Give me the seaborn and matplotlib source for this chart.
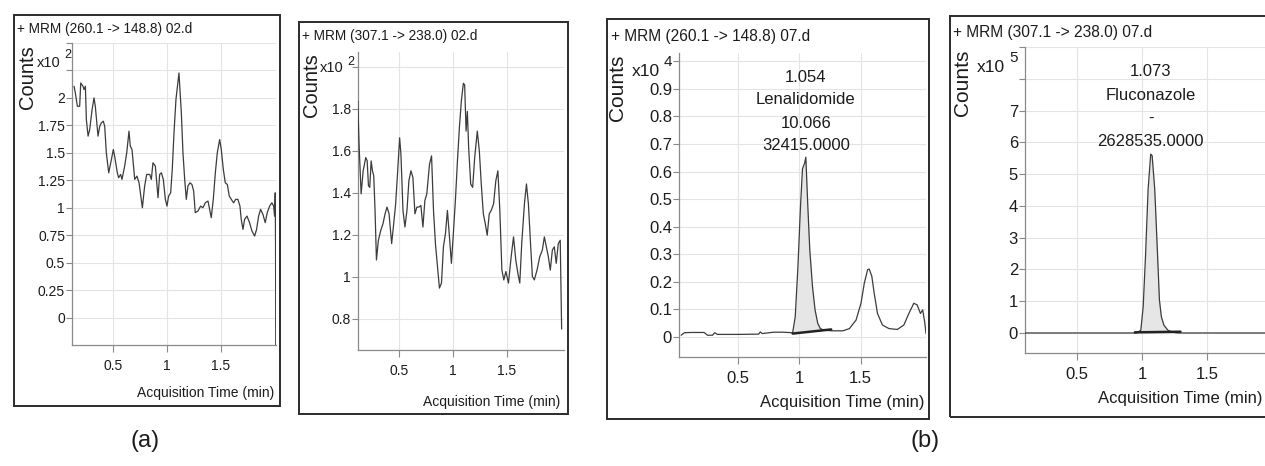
import numpy as np
import pandas as pd
import matplotlib
matplotlib.use("Agg")
import matplotlib.pyplot as plt
import seaborn as sns
from matplotlib import font_manager
from matplotlib.patches import Rectangle

# ---------------- data ----------------
# Panel (a) left: + MRM (260.1 -> 148.8) 02.d   (counts x10^2)
p1_time = [0.139, 0.151, 0.170, 0.191, 0.201, 0.222, 0.231, 0.244, 0.253, 0.269,
           0.284, 0.306, 0.324, 0.336, 0.361, 0.377, 0.392, 0.410, 0.423, 0.438,
           0.460, 0.485, 0.503, 0.515, 0.540, 0.552, 0.571, 0.583, 0.608, 0.627,
           0.648, 0.660, 0.676, 0.701, 0.722, 0.741, 0.772, 0.793, 0.812, 0.840,
           0.855, 0.870, 0.892, 0.917, 0.932, 0.948, 0.966, 0.985, 1.000, 1.015,
           1.034, 1.049, 1.065, 1.083, 1.111, 1.133, 1.148, 1.164, 1.179, 1.194,
           1.213, 1.231, 1.247, 1.262, 1.287, 1.312, 1.333, 1.355, 1.380, 1.395,
           1.410, 1.429, 1.448, 1.466, 1.488, 1.503, 1.522, 1.540, 1.559, 1.577,
           1.596, 1.617, 1.636, 1.657, 1.676, 1.688, 1.704, 1.719, 1.741, 1.765,
           1.787, 1.812, 1.830, 1.849, 1.867, 1.889, 1.910, 1.929, 1.951, 1.972,
           1.988, 1.997, 2.003, 2.006, 2.008]
p1_counts = [2.106, 2.045, 1.924, 1.924, 2.136, 2.106, 2.076, 2.106, 1.803, 1.652,
             1.712, 1.894, 2.000, 1.924, 1.652, 1.742, 1.773, 1.788, 1.742, 1.500,
             1.318, 1.439, 1.530, 1.470, 1.318, 1.273, 1.303, 1.258, 1.379, 1.500,
             1.697, 1.561, 1.530, 1.258, 1.288, 1.227, 1.000, 1.197, 1.303, 1.303,
             1.258, 1.409, 1.379, 1.091, 1.303, 1.318, 1.258, 1.076, 1.015, 1.106,
             1.136, 1.348, 1.682, 1.985, 2.227, 1.864, 1.500, 1.258, 1.076, 1.197,
             1.227, 1.212, 1.152, 0.955, 0.970, 1.015, 1.000, 1.045, 1.061, 0.985,
             0.909, 1.076, 1.318, 1.500, 1.621, 1.530, 1.348, 1.227, 1.212, 1.106,
             1.076, 1.045, 1.076, 1.076, 1.015, 0.894, 0.803, 0.894, 0.924, 0.864,
             0.788, 0.742, 0.803, 0.924, 0.985, 0.939, 0.864, 0.955, 1.015, 1.045,
             1.015, 0.924, 1.136, 0.652, -0.300]

# Panel (a) right: + MRM (307.1 -> 238.0) 02.d   (counts x10^2)
p2_time = [0.110, 0.118, 0.131, 0.149, 0.168, 0.192, 0.205, 0.217, 0.229, 0.242,
           0.254, 0.266, 0.278, 0.291, 0.309, 0.331, 0.352, 0.371, 0.389, 0.408,
           0.432, 0.451, 0.469, 0.488, 0.506, 0.518, 0.537, 0.555, 0.574, 0.592,
           0.611, 0.629, 0.648, 0.666, 0.685, 0.703, 0.722, 0.740, 0.758, 0.783,
           0.802, 0.820, 0.838, 0.857, 0.875, 0.894, 0.912, 0.931, 0.949, 0.968,
           0.986, 1.002, 1.023, 1.042, 1.060, 1.078, 1.097, 1.109, 1.122, 1.134,
           1.146, 1.165, 1.183, 1.202, 1.226, 1.245, 1.263, 1.282, 1.300, 1.318,
           1.337, 1.355, 1.377, 1.398, 1.417, 1.435, 1.454, 1.472, 1.491, 1.515,
           1.540, 1.562, 1.583, 1.602, 1.620, 1.638, 1.663, 1.682, 1.700, 1.718,
           1.737, 1.755, 1.780, 1.805, 1.829, 1.848, 1.866, 1.885, 1.903, 1.922,
           1.940, 1.958, 1.977, 1.995, 2.008]
p2_counts = [1.819, 1.835, 1.614, 1.394, 1.504, 1.567, 1.551, 1.433, 1.425, 1.551,
             1.504, 1.480, 1.315, 1.079, 1.173, 1.220, 1.252, 1.299, 1.331, 1.299,
             1.157, 1.252, 1.346, 1.504, 1.661, 1.583, 1.315, 1.236, 1.315, 1.457,
             1.504, 1.472, 1.299, 1.331, 1.331, 1.339, 1.236, 1.362, 1.394, 1.535,
             1.575, 1.315, 1.157, 1.047, 0.945, 0.969, 1.142, 1.205, 1.315, 1.189,
             1.063, 1.189, 1.362, 1.551, 1.709, 1.835, 1.921, 1.913, 1.693, 1.787,
             1.614, 1.441, 1.425, 1.567, 1.693, 1.598, 1.441, 1.299, 1.252, 1.197,
             1.299, 1.315, 1.346, 1.457, 1.504, 1.315, 1.031, 0.984, 1.024, 0.969,
             1.094, 1.189, 1.079, 1.016, 0.969, 1.157, 1.346, 1.441, 1.346, 1.173,
             1.000, 0.984, 1.031, 1.094, 1.126, 1.189, 1.142, 1.094, 1.031, 1.126,
             1.142, 1.063, 1.157, 1.173, 0.750]

# Panel (b) left: + MRM (260.1 -> 148.8) 07.d   (counts x10^4)
p3_time = [0.041, 0.068, 0.121, 0.228, 0.255, 0.296, 0.314, 0.336, 0.497, 0.671,
           0.684, 0.700, 0.792, 0.872, 0.947, 0.968, 0.990, 1.011, 1.027, 1.044,
           1.054, 1.070, 1.086, 1.108, 1.129, 1.151, 1.172, 1.207, 1.274, 1.355,
           1.408, 1.462, 1.502, 1.529, 1.556, 1.569, 1.590, 1.609, 1.636, 1.676,
           1.730, 1.797, 1.850, 1.891, 1.931, 1.958, 1.985, 2.003, 2.019, 2.030]
p3_counts = [0.006, 0.015, 0.016, 0.016, 0.006, 0.006, 0.015, 0.009, 0.009, 0.010,
             0.018, 0.012, 0.017, 0.017, 0.015, 0.073, 0.256, 0.476, 0.610, 0.630,
             0.652, 0.476, 0.317, 0.183, 0.098, 0.049, 0.030, 0.024, 0.022, 0.022,
             0.030, 0.061, 0.122, 0.195, 0.244, 0.246, 0.220, 0.159, 0.085, 0.043,
             0.030, 0.027, 0.043, 0.085, 0.122, 0.116, 0.085, 0.098, 0.055, 0.012]
p3_base_time = [0.947, 1.260]
p3_base_counts = [0.012, 0.027]
p3_labels = ["1.054", "Lenalidomide", "10.066", "32415.0000"]

# Panel (b) right: + MRM (307.1 -> 238.0) 07.d   (counts x10^5)
p4_time = [0.100, 0.958, 0.991, 1.009, 1.027, 1.047, 1.067, 1.078, 1.098, 1.118,
           1.134, 1.149, 1.169, 1.200, 1.238, 1.276, 2.000]
p4_counts = [0.0, 0.0, 0.085, 0.82, 2.41, 4.52, 5.63, 5.58, 4.52, 2.62,
             1.04, 0.51, 0.24, 0.085, 0.02, 0.0, 0.0]
p4_base_time = [0.945, 1.296]
p4_base_counts = [0.02, 0.04]
p4_labels = ["1.073", "Fluconazole", "-", "2628535.0000"]

x_ticks = [0.5, 1.0, 1.5]
x_ticklabels = ["0.5", "1", "1.5"]
p1_yticks = [0, 0.25, 0.5, 0.75, 1, 1.25, 1.5, 1.75, 2, 2.25, 2.5]
p1_yticklabels = ["0", "0.25", "0.5", "0.75", "1", "1.25", "1.5", "1.75", "2", "", ""]
p2_yticks = [0.8, 1.0, 1.2, 1.4, 1.6, 1.8, 2.0]
p2_yticklabels = ["0.8", "1", "1.2", "1.4", "1.6", "1.8", ""]
p3_yticks = [0, 0.1, 0.2, 0.3, 0.4, 0.5, 0.6, 0.7, 0.8, 0.9, 1.0]
p3_yticklabels = ["0", "0.1", "0.2", "0.3", "0.4", "0.5", "0.6", "0.7", "0.8", "0.9", ""]
p4_yticks = [0, 1, 2, 3, 4, 5, 6, 7, 8, 9]
p4_yticklabels = ["0", "1", "2", "3", "4", "5", "6", "7", "", ""]

titles = ["+ MRM (260.1 -> 148.8) 02.d", "+ MRM (307.1 -> 238.0) 02.d",
          "+ MRM (260.1 -> 148.8) 07.d", "+ MRM (307.1 -> 238.0) 07.d"]
exponents = ["2", "2", "4", "5"]
panel_tags = ["(a)", "(b)"]

# ---------------- style ----------------
sns.set_theme(style="white")


def pick(names):
    for n in names:
        try:
            font_manager.findfont(font_manager.FontProperties(family=n),
                                  fallback_to_default=False)
            return n
        except Exception:
            pass
    return "DejaVu Sans"


FONT = pick(["Liberation Sans Narrow", "Liberation Sans", "Arimo"])
REG = pick(["Liberation Sans", "Arimo", "DejaVu Sans"])
plt.rcParams["font.family"] = [FONT, "DejaVu Sans"]

W, H = 1265, 466
fig = plt.figure(figsize=(W / 100, H / 100), dpi=100)
fig.patch.set_facecolor("white")

TXT = "#1c1c1c"
LINE = "#3c3c3c"
GRID = "#e4e4e4"
SPINE = "#8a8a8a"


def fx(px):
    return px / W


def fy(py):
    return 1 - py / H


panels = [
    dict(t=p1_time, c=p1_counts, ax=(72, 43, 276, 345), xlim=(0.12, 2.01), ylim=(-0.25, 2.5),
         yt=p1_yticks, ytl=p1_yticklabels, box=(14, 15, 280, 406), title=(17, 29),
         counts=(28, 77), x10=(37, 63), exp=(64, 55), xlab=(274, 393), xlab_ha="right",
         tfs=9.8, kfs=10, lfs=10, cfs=14.5, afs=0),
    dict(t=p2_time, c=p2_counts, ax=(358, 52, 564, 350), xlim=(0.12, 2.03), ylim=(0.65, 2.07),
         yt=p2_yticks, ytl=p2_yticklabels, box=(299, 22, 568, 414), title=(302, 36),
         counts=(312, 85), x10=(320, 68), exp=(347, 62), xlab=(560, 402), xlab_ha="right",
         tfs=9.8, kfs=10, lfs=10, cfs=14.5, afs=0),
    dict(t=p3_time, c=p3_counts, ax=(679, 53, 926, 357), xlim=(0.024, 2.03), ylim=(-0.073, 1.03),
         yt=p3_yticks, ytl=p3_yticklabels, box=(607, 19, 929, 419), title=(611, 36),
         counts=(618, 88), x10=(632, 72), exp=(664, 62), xlab=(924, 403), xlab_ha="right",
         tfs=11.2, kfs=12, lfs=12, cfs=15, afs=12),
    dict(t=p4_time, c=p4_counts, ax=(1025, 47, 1272, 353), xlim=(0.1, 2.0), ylim=(-0.63, 9.0),
         yt=p4_yticks, ytl=p4_yticklabels, box=(950, 16, 1300, 417), title=(953, 32),
         counts=(962, 83), x10=(977, 67), exp=(1009, 58), xlab=(1262, 398), xlab_ha="right",
         tfs=11.2, kfs=12, lfs=12, cfs=15, afs=12),
]

for i, p in enumerate(panels):
    l, t, r, b = p["ax"]
    ax = fig.add_axes([fx(l), fy(b), (r - l) / W, (b - t) / H])
    ax.patch.set_alpha(0)
    df = pd.DataFrame({"time": p["t"], "counts": p["c"]})

    if i == 2:
        bx, by = p3_base_time, p3_base_counts
    elif i == 3:
        bx, by = p4_base_time, p4_base_counts
    else:
        bx = None
    if bx is not None:
        seg = df[(df["time"] >= bx[0]) & (df["time"] <= bx[1])]
        xs = np.concatenate([[bx[0]], seg["time"].to_numpy(), [bx[1]]])
        ys = np.interp(xs, df["time"], df["counts"])
        base = np.interp(xs, bx, by)
        ax.fill_between(xs, base, ys, color="#e6e6e6", lw=0, zorder=1)

    sns.lineplot(data=df, x="time", y="counts", ax=ax, color=LINE, lw=0.9,
                 estimator=None, sort=False, legend=False, zorder=3)
    if bx is not None:
        sns.lineplot(x=bx, y=by, ax=ax, color="#222222", lw=1.8, estimator=None,
                     sort=False, legend=False, zorder=4)

    ax.set_xlim(*p["xlim"])
    ax.set_ylim(*p["ylim"])
    ax.set_xticks(x_ticks)
    ax.set_xticklabels(x_ticklabels)
    ax.set_yticks(p["yt"])
    ax.set_yticklabels(p["ytl"])
    ax.set_xlabel("")
    ax.set_ylabel("")
    ax.grid(True, color=GRID, lw=0.8)
    for s in ["top", "right"]:
        ax.spines[s].set_visible(False)
    for s in ["left", "bottom"]:
        ax.spines[s].set_visible(True)
        ax.spines[s].set_color(SPINE)
        ax.spines[s].set_linewidth(0.9)
    ax.tick_params(axis="y", direction="out", length=4, width=0.8, color=SPINE,
                   labelsize=p["kfs"], labelcolor=TXT, pad=1, left=True)
    ax.tick_params(axis="x", direction="out", length=5, width=0.8, color=SPINE,
                   labelsize=p["kfs"], labelcolor=TXT, pad=5, bottom=True)

    # surrounding frame
    bl, bt, br, bb = p["box"]
    fig.add_artist(Rectangle((fx(bl), fy(bb)), (br - bl) / W, (bb - bt) / H,
                             transform=fig.transFigure, fill=False, lw=1.4,
                             ec="#2b2b2b", zorder=0))
    fig.text(fx(p["title"][0]), fy(p["title"][1]), titles[i], fontsize=p["tfs"],
             color=TXT, ha="left", va="center")
    fig.text(fx(p["counts"][0]), fy(p["counts"][1]), "Counts", fontsize=p["cfs"],
             color=TXT, ha="center", va="center", rotation=90)
    fig.text(fx(p["x10"][0]), fy(p["x10"][1]), "x10", fontsize=p["kfs"] + 0.5,
             color=TXT, ha="left", va="center")
    fig.text(fx(p["exp"][0]), fy(p["exp"][1]), exponents[i], fontsize=p["kfs"] - 1,
             color=TXT, ha="left", va="center")
    fig.text(fx(p["xlab"][0]), fy(p["xlab"][1]), "Acquisition Time (min)",
             fontsize=p["lfs"], color=TXT, ha=p["xlab_ha"], va="center")

    if i >= 2:
        labs = p3_labels if i == 2 else p4_labels
        peak = int(np.argmax(p["c"]))
        ys_px = [77, 100, 123, 145] if i == 2 else [72, 95, 118, 142]
        xc = p["t"][peak]
        fig.canvas.draw()
        xpix = ax.transData.transform((xc, 0))[0]
        for lab, ypx in zip(labs, ys_px):
            fig.text(xpix / W, fy(ypx), lab, fontsize=p["afs"], color=TXT,
                     ha="center", va="center")

fig.text(fx(145), fy(441), panel_tags[0], fontsize=17, color=TXT, ha="center",
         va="center", family=[REG, "DejaVu Sans"])
fig.text(fx(925), fy(441), panel_tags[1], fontsize=17, color=TXT, ha="center",
         va="center", family=[REG, "DejaVu Sans"])

fig.savefig("out.png", dpi=100, facecolor="white")
